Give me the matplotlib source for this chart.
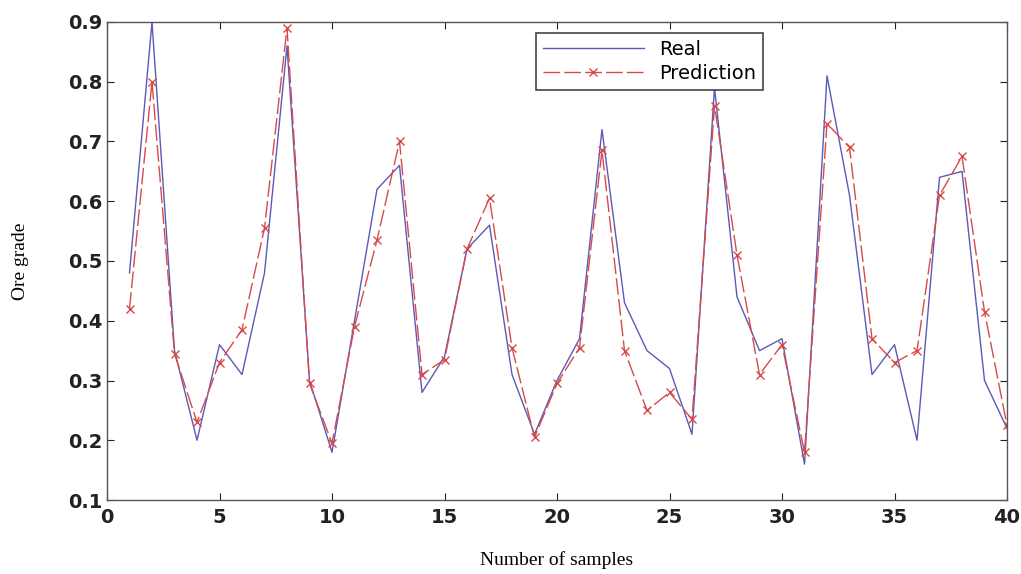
import numpy as np
import matplotlib.pyplot as plt

# valores
samples = np.arange(1, 41)
real = [0.48, 0.90, 0.35, 0.20, 0.36, 0.31, 0.48, 0.86, 0.30, 0.18,
        0.40, 0.62, 0.66, 0.28, 0.34, 0.52, 0.56, 0.31, 0.21, 0.30,
        0.37, 0.72, 0.43, 0.35, 0.32, 0.21, 0.79, 0.44, 0.35, 0.37,
        0.16, 0.81, 0.61, 0.31, 0.36, 0.20, 0.64, 0.65, 0.30, 0.22]
prediction = [0.42, 0.80, 0.345, 0.23, 0.33, 0.385, 0.555, 0.89, 0.295, 0.195,
              0.39, 0.535, 0.70, 0.31, 0.335, 0.52, 0.605, 0.355, 0.205, 0.295,
              0.355, 0.685, 0.35, 0.25, 0.28, 0.235, 0.76, 0.51, 0.31, 0.36,
              0.18, 0.73, 0.69, 0.37, 0.33, 0.35, 0.61, 0.675, 0.415, 0.225]
xticks = [0, 5, 10, 15, 20, 25, 30, 35, 40]
yticks = [0.1, 0.2, 0.3, 0.4, 0.5, 0.6, 0.7, 0.8, 0.9]

fig = plt.figure(figsize=(10.21, 5.74), dpi=100)
ax = fig.add_axes([0.1048, 0.1289, 0.8815, 0.8328])

ax.plot(samples, real, '-', color='#5a5ab8', linewidth=1.0, label='Real')
ax.plot(samples, prediction, color='#d84a4a', linewidth=1.0, linestyle=(0, (12, 3)),
        marker='x', markersize=6, markeredgewidth=1.0, label='Prediction')

ax.set_xlim(0, 40)
ax.set_ylim(0.1, 0.9)
ax.set_xticks(xticks)
ax.set_yticks(yticks)
ax.set_yticklabels(['%.1f' % v for v in yticks])
ax.tick_params(direction='in', top=True, right=True, length=5, width=0.8,
               labelsize=14, colors='#222222')
ax.tick_params(axis='x', pad=6)
for lab in ax.get_xticklabels() + ax.get_yticklabels():
    lab.set_fontweight('bold')
    lab.set_family('DejaVu Sans')
for s in ax.spines.values():
    s.set_color('#555555')
    s.set_linewidth(1.0)

ax.set_xlabel('Number of samples', fontsize=14, family='Liberation Serif', labelpad=17)
ax.set_ylabel('Ore grade', fontsize=14, family='Liberation Serif', labelpad=28)

leg = ax.legend(loc='upper left', bbox_to_anchor=(0.466, 0.997), fancybox=False,
                framealpha=1, edgecolor='#444444', handlelength=5.2,
                prop={'family': 'DejaVu Sans', 'size': 14}, borderpad=0.35,
                labelspacing=0.25, handletextpad=0.8)
leg.get_frame().set_linewidth(1.2)

plt.savefig('out.png', dpi=100)
